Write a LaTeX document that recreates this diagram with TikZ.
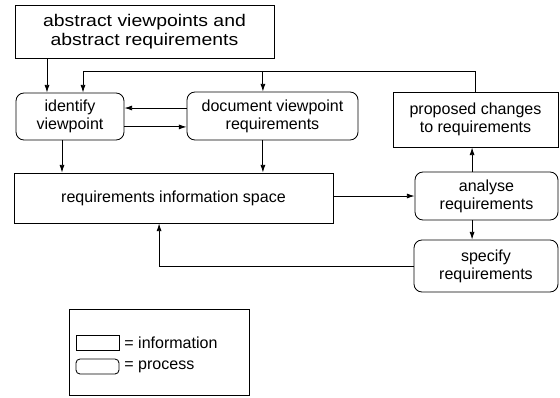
\documentclass[tikz,border=0pt]{standalone}
\usepackage{fontspec}
\setmainfont{Liberation Sans}
\newfontfamily\widesans{Liberation Sans}[FakeStretch=1.15]
\usepackage{tikz}
\usetikzlibrary{positioning,arrows.meta}

\begin{document}
\begin{tikzpicture}[
    x=0.025cm, y=-0.025cm,
    info/.style={rectangle, draw, line width=0.6pt, align=center, inner sep=2pt, font=\fontsize{11.4}{12.8}\selectfont},
    process/.style={info, rounded corners=0.2cm},
    arrow/.style={->, line width=0.6pt, >={Latex[length=5.5pt,width=3.6pt]}}
]
\useasboundingbox (0,0) rectangle (560,397);

% Information and process boxes
\node[info, minimum width=6.475cm, minimum height=1.325cm, font=\widesans\fontsize{12}{13.4}\selectfont] (abstract) at (144.5,31.5) {abstract viewpoints and\\abstract requirements};
\node[process, minimum width=2.7cm, minimum height=1.175cm] (ident) at (70,116.5) {identify\\viewpoint};
\node[process, minimum width=4.275cm, minimum height=1.2cm] (doc) at (272.5,116) {document viewpoint\\requirements};
\node[info, minimum width=4.125cm, minimum height=1.375cm] (prop) at (475.5,119.5) {proposed changes\\to requirements};
\node[info, minimum width=7.975cm, minimum height=1.25cm] (space) at (173.5,198) {requirements information space};
\node[process, minimum width=3.575cm, minimum height=1.2cm] (ana) at (486.5,196) {analyse\\requirements};
\node[process, minimum width=3.6cm, minimum height=1.3cm] (spec) at (486,266) {specify\\requirements};

% Attachment points off the box centres
\coordinate (absin) at ([xshift=-0.575cm]ident.north);
\coordinate (idin) at ([xshift=0.325cm]ident.north);
\coordinate (fb) at ([yshift=0.5cm]prop.north);
\coordinate (docin) at ([xshift=-0.24cm]doc.north);
\coordinate (docout) at ([xshift=-0.24cm]doc.south);
\coordinate (idout) at ([xshift=-0.2cm]ident.south);
\coordinate (docback) at ([yshift=0.2cm]doc.west);
\coordinate (idfwd) at ([yshift=-0.26cm]ident.east);
\coordinate (anaup) at ([xshift=-0.36cm]ana.north);
\coordinate (anadown) at ([xshift=-0.36cm]ana.south);
\coordinate (spacein) at ([xshift=-0.36cm]space.south);

% Flows
\draw[arrow] (absin |- abstract.south) -- (absin);
\draw[arrow] (prop.north) -- (fb) -| (idin);
\draw[arrow] (docin |- fb) -- (docin);
\draw[arrow] (docback) -- (docback -| ident.east);
\draw[arrow] (idfwd) -- (idfwd -| doc.west);
\draw[arrow] (idout) -- (idout |- space.north);
\draw[arrow] (docout) -- (docout |- space.north);
\draw[arrow] (space.east |- ana.west) -- (ana.west);
\draw[arrow] (anaup) -- (anaup |- prop.south);
\draw[arrow] (anadown) -- (anadown |- spec.north);
\draw[arrow] (spec.west) -| (spacein);

% Key
\node[rectangle, draw, line width=0.6pt, minimum width=4.5cm, minimum height=2.15cm] (legend) at (159,352) {};
\node[info, minimum width=1.075cm, minimum height=0.375cm, inner sep=0pt] (keyinfo) at (97.5,342.5) {};
\node[process, rounded corners=0.1cm, minimum width=1.075cm, minimum height=0.375cm, inner sep=0pt] (keyproc) at (97.5,366.5) {};
\node[anchor=west, font=\fontsize{11.4}{12.8}\selectfont] (keyinfotext) at (keyinfo.east) {= information};
\node[anchor=west, font=\fontsize{11.4}{12.8}\selectfont] (keyproctext) at (keyproc.east) {= process};

\end{tikzpicture}
\end{document}
